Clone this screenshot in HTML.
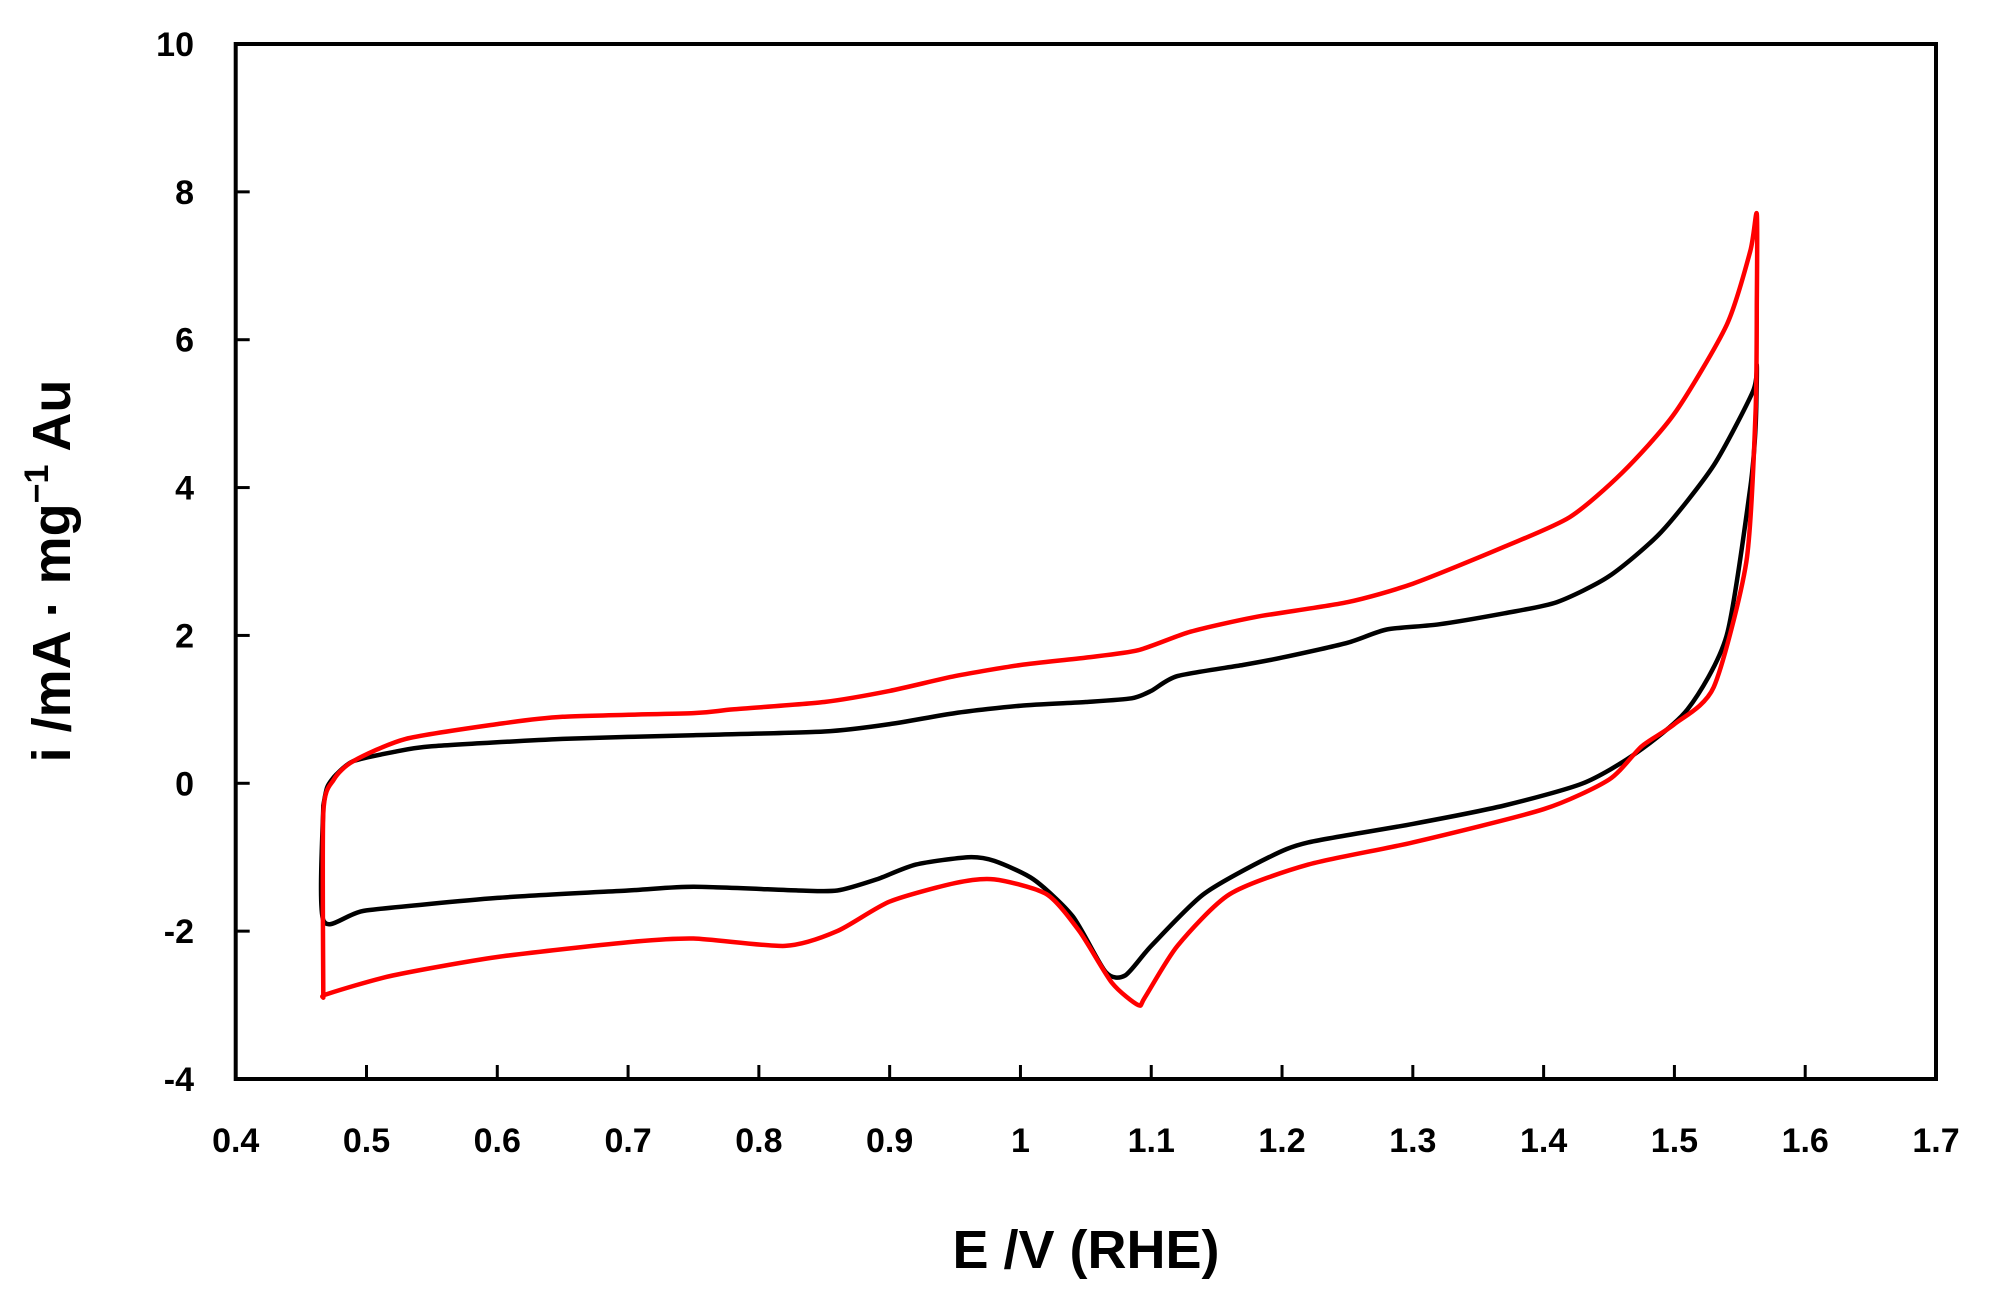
<!DOCTYPE html>
<html><head><meta charset="utf-8"><style>
html,body{margin:0;padding:0;background:#fff}
svg{display:block}
text{font-family:"Liberation Sans",sans-serif;font-weight:bold;fill:#000}
</style></head><body>
<svg id="chart" width="1991" height="1300" viewBox="0 0 1991 1300" xmlns="http://www.w3.org/2000/svg">
<g id="axes"></g>
<g id="series"></g>
<text x="1086" y="1268" font-size="54" text-anchor="middle">E /V (RHE)</text>
<text transform="translate(70,571) rotate(-90)" font-size="54" text-anchor="middle">i /mA · mg<tspan font-size="34" dy="-22">−1</tspan><tspan dy="22"> Au</tspan></text>
</svg>
<script>
const xTicks = [0.4,0.5,0.6,0.7,0.8,0.9,1,1.1,1.2,1.3,1.4,1.5,1.6,1.7];
const xTickLabels = ["0.4","0.5","0.6","0.7","0.8","0.9","1","1.1","1.2","1.3","1.4","1.5","1.6","1.7"];
const yTicks = [-4,-2,0,2,4,6,8,10];
const yTickLabels = ["-4","-2","0","2","4","6","8","10"];
const blackE = [0.467,0.47,0.477,0.49,0.52,0.55,0.65,0.75,0.85,0.9,0.95,1.0,1.05,1.085,1.1,1.12,1.17,1.2,1.25,1.28,1.32,1.37,1.41,1.45,1.49,1.53,1.56,1.563,1.562,1.558,1.54,1.51,1.47,1.43,1.37,1.3,1.22,1.19,1.14,1.1,1.08,1.065,1.04,1.01,0.98,0.96,0.92,0.89,0.86,0.83,0.75,0.7,0.6,0.5,0.467,0.467];
const blackI = [-0.3,-0.05,0.12,0.3,0.42,0.5,0.6,0.65,0.7,0.8,0.95,1.05,1.1,1.15,1.25,1.45,1.6,1.7,1.9,2.08,2.15,2.3,2.45,2.8,3.4,4.3,5.3,5.65,4.8,4.0,2.0,1.0,0.4,0.0,-0.3,-0.55,-0.8,-1.0,-1.5,-2.2,-2.6,-2.55,-1.8,-1.3,-1.05,-1.0,-1.1,-1.3,-1.45,-1.45,-1.4,-1.45,-1.55,-1.72,-1.85,-0.3];
const redE = [0.467,0.467,0.475,0.49,0.53,0.6,0.65,0.75,0.78,0.85,0.9,0.95,1.0,1.05,1.09,1.13,1.18,1.25,1.3,1.37,1.42,1.46,1.5,1.54,1.558,1.563,1.563,1.562,1.555,1.53,1.5,1.475,1.45,1.4,1.3,1.22,1.16,1.12,1.095,1.09,1.07,1.045,1.02,0.98,0.95,0.9,0.86,0.82,0.75,0.7,0.6,0.52,0.47,0.467];
const redI = [-2.9,-0.4,0.05,0.3,0.6,0.8,0.9,0.95,1.0,1.1,1.25,1.45,1.6,1.7,1.8,2.05,2.25,2.45,2.7,3.2,3.6,4.2,5.0,6.2,7.2,7.7,6.5,5.0,3.0,1.3,0.8,0.5,0.05,-0.35,-0.8,-1.1,-1.5,-2.2,-2.9,-3.0,-2.7,-2.0,-1.5,-1.3,-1.35,-1.6,-2.0,-2.2,-2.1,-2.15,-2.35,-2.6,-2.85,-2.9];

const NS = "http://www.w3.org/2000/svg";
const X0 = 235.7, X1 = 1936, Y0 = 1079, Y1 = 44;
function xScale(v){ return X0 + (v-0.4)/(1.7-0.4)*(X1-X0); }
function yScale(v){ return Y0 - (v+4)/14*(Y0-Y1); }
const axes = document.getElementById('axes');
const series = document.getElementById('series');
function mk(tag, attrs, parent){ const e=document.createElementNS(NS,tag); for(const k in attrs) e.setAttribute(k,attrs[k]); parent.appendChild(e); return e; }

const frame = mk('rect',{x:X0,y:Y1,width:X1-X0,height:Y0-Y1,fill:'none',stroke:'#000','stroke-width':4},axes);



xTicks.forEach((t,i)=>{
  const x=xScale(t);
  if(i>0 && i<xTicks.length-1){
    const tk=mk('line',{x1:x,x2:x,y1:Y0,y2:Y0-14,stroke:'#000','stroke-width':3},axes);
    
    
  }
  const lb=mk('text',{x:x,y:1152,'font-size':34,'text-anchor':'middle'},axes);
  lb.textContent=xTickLabels[i];
  
  
});
yTicks.forEach((t,i)=>{
  const y=yScale(t);
  if(i>0 && i<yTicks.length-1){
    const tk=mk('line',{x1:X0,x2:X0+14,y1:y,y2:y,stroke:'#000','stroke-width':3},axes);
    
    
  }
  const lb=mk('text',{x:194,y:y+12,'font-size':34,'text-anchor':'end'},axes);
  lb.textContent=yTickLabels[i];
  
  
});

function smoothPath(E,I){
  const p=E.map((e,i)=>[xScale(e),yScale(I[i])]);
  let d='M'+p[0][0].toFixed(1)+','+p[0][1].toFixed(1);
  for(let i=0;i<p.length-1;i++){
    const p0=p[i-1]||p[i], p1=p[i], p2=p[i+1], p3=p[i+2]||p2;
    const t=0.12;
    const c1=[p1[0]+(p2[0]-p0[0])*t, p1[1]+(p2[1]-p0[1])*t];
    const c2=[p2[0]-(p3[0]-p1[0])*t, p2[1]-(p3[1]-p1[1])*t];
    d+=' C'+c1[0].toFixed(1)+','+c1[1].toFixed(1)+' '+c2[0].toFixed(1)+','+c2[1].toFixed(1)+' '+p2[0].toFixed(1)+','+p2[1].toFixed(1);
  }
  return d;
}
const blk=mk('path',{d:smoothPath(blackE,blackI),fill:'none',stroke:'#000','stroke-width':4.5,'stroke-linejoin':'round','stroke-linecap':'round'},series);


const red=mk('path',{d:smoothPath(redE,redI),fill:'none',stroke:'#ff0000','stroke-width':4.5,'stroke-linejoin':'round','stroke-linecap':'round'},series);


</script>
</body></html>
